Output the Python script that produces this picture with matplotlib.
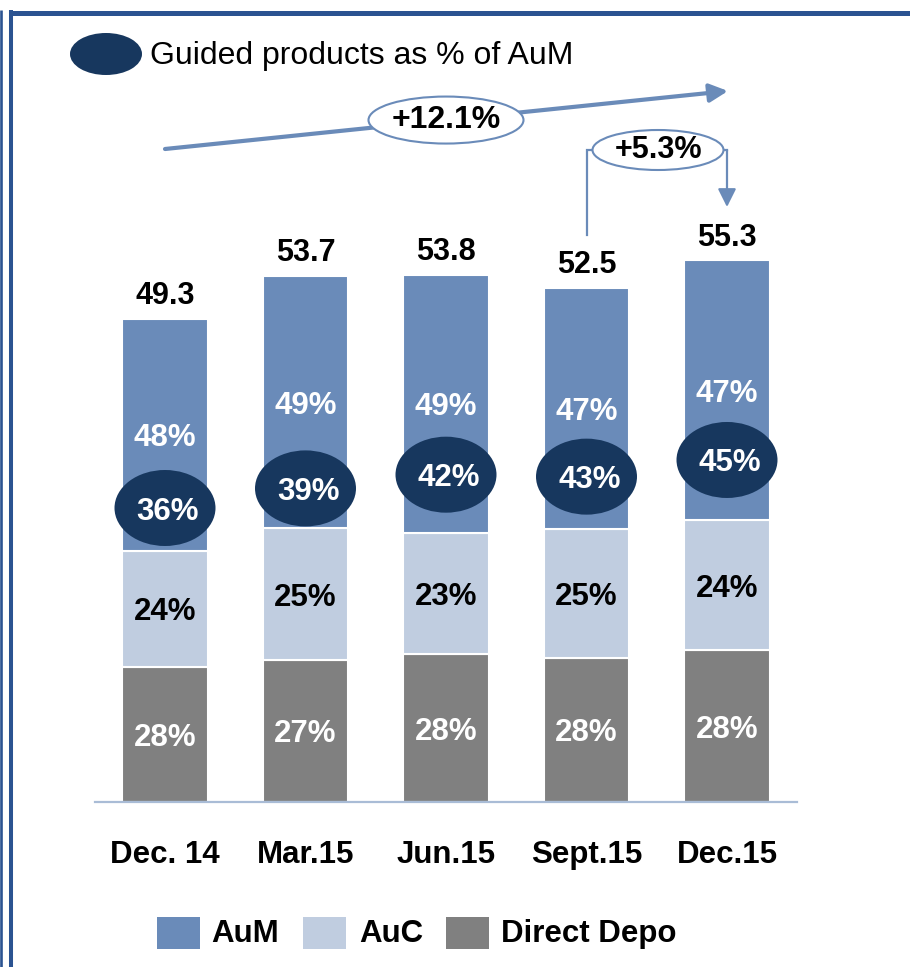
import matplotlib
matplotlib.use("Agg")
import matplotlib.pyplot as plt
from matplotlib.patches import Ellipse, Rectangle, FancyArrowPatch
import numpy as np

plt.rcParams['font.family'] = ['Liberation Sans', 'DejaVu Sans']

# ---------------- data ----------------
categories = ["Dec. 14", "Mar.15", "Jun.15", "Sept.15", "Dec.15"]
totals = [49.3, 53.7, 53.8, 52.5, 55.3]
aum_pct = [48, 49, 49, 47, 47]
auc_pct = [24, 25, 23, 25, 24]
depo_pct = [28, 27, 28, 28, 28]
guided_pct = [36, 39, 42, 43, 45]
growth_year = "+12.1%"
growth_quarter = "+5.3%"

# ---------------- layout / style ----------------
C_AUM = "#6a8bb9"
C_AUC = "#c0cde0"
C_DEPO = "#808080"
C_NAVY = "#17375e"
C_ARROW = "#6a8bb9"
C_FRAME = "#2b5391"
guided_y = [30.0, 32.0, 33.4, 33.2, 34.9]   # label positions (data units)

W, H = 910, 967
fig = plt.figure(figsize=(W / 100, H / 100), dpi=100)
px_per_x = 140.5
px_per_y = 9.8
base_px = 802
ax = fig.add_axes([(165 - 0.5 * px_per_x) / W, (H - base_px) / H,
                   5 * px_per_x / W, 80 * px_per_y / H])
ax.set_xlim(-0.5, 4.5)
ax.set_ylim(0, 80)

x = np.arange(len(categories))
tot = np.array(totals)
depo = tot * np.array(depo_pct) / 100
auc = tot * np.array(auc_pct) / 100
aum = tot - depo - auc
bw = 0.605

ax.bar(x, depo, bw, color=C_DEPO, edgecolor="white", linewidth=1.5, zorder=2)
ax.bar(x, auc, bw, bottom=depo, color=C_AUC, edgecolor="white", linewidth=1.5, zorder=2)
ax.bar(x, aum, bw, bottom=depo + auc, color=C_AUM, edgecolor="white", linewidth=1.5, zorder=2)

FS = 22.5
VA = "center_baseline"
for i in range(len(x)):
    ax.text(x[i], depo[i] / 2, f"{depo_pct[i]}%", ha="center", va=VA,
            color="white", fontsize=FS, fontweight="bold", zorder=5)
    ax.text(x[i], depo[i] + auc[i] / 2, f"{auc_pct[i]}%", ha="center", va=VA,
            color="black", fontsize=FS, fontweight="bold", zorder=5)
    ax.text(x[i], depo[i] + auc[i] + aum[i] / 2, f"{aum_pct[i]}%", ha="center", va=VA,
            color="white", fontsize=FS, fontweight="bold", zorder=5)
    ax.text(x[i], tot[i] + 2.3, f"{totals[i]:.1f}", ha="center", va="center",
            color="black", fontsize=22, fontweight="bold", zorder=5)
    e = Ellipse((x[i], guided_y[i]), 101 / px_per_x, 76 / px_per_y,
                facecolor=C_NAVY, edgecolor="none", zorder=4)
    ax.add_patch(e)
    ax.text(x[i] + 0.02, guided_y[i], f"{guided_pct[i]}%", ha="center", va=VA,
            color="white", fontsize=FS, fontweight="bold", zorder=6)

# axes styling
for s in ["top", "right", "left"]:
    ax.spines[s].set_visible(False)
ax.spines["bottom"].set_color("#a9bcd6")
ax.spines["bottom"].set_linewidth(1.6)
ax.set_yticks([])
ax.set_xticks(x)
ax.set_xticklabels(categories, fontsize=22.5, fontweight="bold")
ax.tick_params(axis="x", length=0, pad=44)
for lbl in ax.get_xticklabels():
    lbl.set_verticalalignment("baseline")
ax.patch.set_alpha(0)

# growth arrow (year)
y0 = (base_px - 149) / px_per_y
y1 = (base_px - 91) / px_per_y
x1 = (728 - 165) / px_per_x
arr = FancyArrowPatch((0, y0), (x1, y1), arrowstyle="-|>,head_length=11,head_width=5.5",
                      mutation_scale=1, color=C_ARROW, lw=3, shrinkA=0, shrinkB=0,
                      clip_on=False, zorder=3)
ax.add_patch(arr)
xm = 2.0
ym = y0 + (y1 - y0) * xm / x1
ax.add_patch(Ellipse((xm, ym), 155 / px_per_x, 47 / px_per_y, facecolor="white",
                     edgecolor=C_ARROW, lw=1.5, clip_on=False, zorder=4))
ax.text(xm, ym, growth_year, ha="center", va="center", fontsize=23,
        fontweight="bold", zorder=5)

# growth arrow (quarter)
yb = (base_px - 235) / px_per_y
yt = (base_px - 150) / px_per_y
ye = (base_px - 207) / px_per_y
ax.plot([3, 3, 4], [yb, yt, yt], color=C_ARROW, lw=1.6, clip_on=False, zorder=3,
        solid_joinstyle="miter")
arr2 = FancyArrowPatch((4, yt), (4, ye), arrowstyle="-|>,head_length=11,head_width=5.5",
                       mutation_scale=1, color=C_ARROW, lw=1.6, shrinkA=0, shrinkB=0,
                       clip_on=False, zorder=3)
ax.add_patch(arr2)
xq = (658 - 165) / px_per_x
ax.add_patch(Ellipse((xq, yt), 131 / px_per_x, 40 / px_per_y, facecolor="white",
                     edgecolor=C_ARROW, lw=1.5, clip_on=False, zorder=4))
ax.text(xq, yt, growth_quarter, ha="center", va="center", fontsize=22,
        fontweight="bold", zorder=5)

# ---------------- overlay (pixel coordinates) ----------------
ov = fig.add_axes([0, 0, 1, 1], zorder=-1)
ov.set_xlim(0, W)
ov.set_ylim(H, 0)
ov.axis("off")

# frame
ov.plot([9, W], [12.5, 12.5], color=C_FRAME, lw=3.6, solid_capstyle="butt")
ov.plot([1.3, 1.3], [10, H], color=C_FRAME, lw=1.9, solid_capstyle="butt")
ov.plot([11, 11], [10, H], color=C_FRAME, lw=2.9, solid_capstyle="butt")

# header
ov.add_patch(Ellipse((106, 54), 72, 42, facecolor=C_NAVY, edgecolor="none"))
ov.text(150, 64, "Guided products as % of AuM", ha="left", va="baseline",
        fontsize=23, color="black")

# legend
leg = [("AuM", C_AUM, 157, 211), ("AuC", C_AUC, 303, 359), ("Direct Depo", C_DEPO, 446, 501)]
for name, col, px0, tx in leg:
    ov.add_patch(Rectangle((px0, 917), 43, 32, facecolor=col, edgecolor="none"))
    ov.text(tx, 934, name, ha="left", va="center", fontsize=22.5, fontweight="bold")

fig.savefig("out.png", dpi=100)
